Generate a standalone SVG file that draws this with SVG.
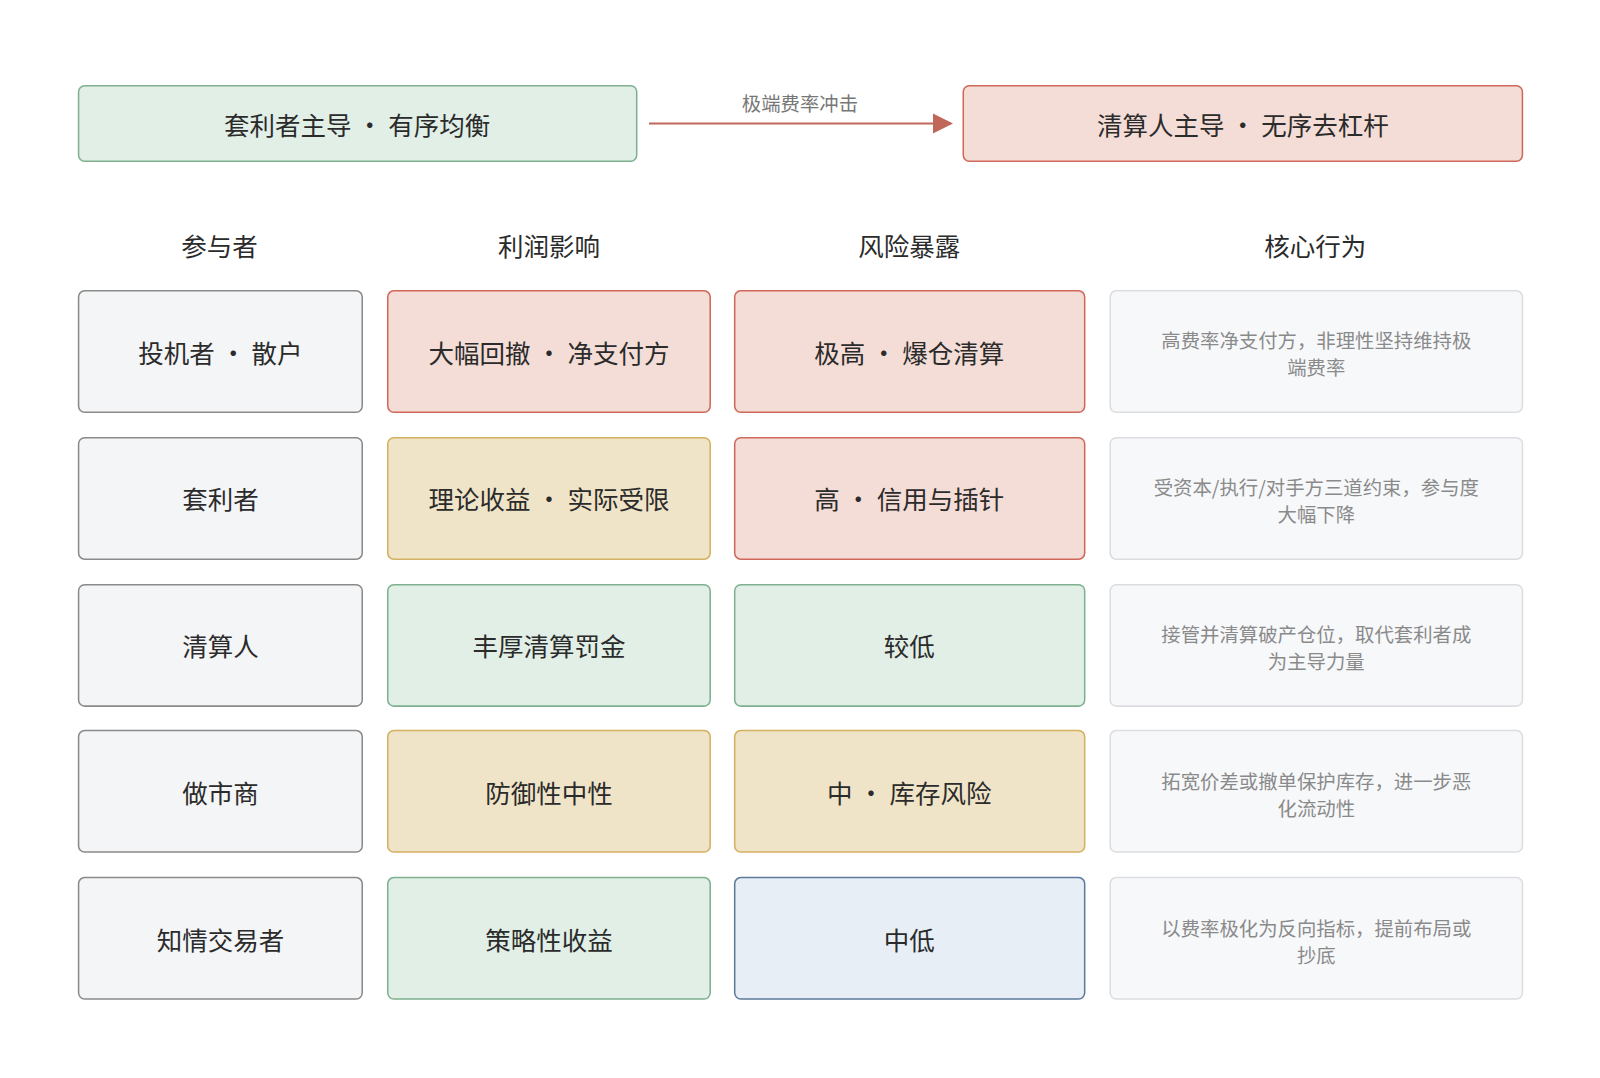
<svg xmlns="http://www.w3.org/2000/svg" width="1600" height="1078" viewBox="0 0 1600 1078">
<style>
text{font-family:"Noto Sans CJK SC","Noto Sans",sans-serif;text-anchor:middle;dominant-baseline:central}
.t{font-size:25px;fill:#2b2b2b}
.h{font-size:25px;fill:#2b2b2b}
.s{font-size:19px;fill:#8a8a8a}
.l{font-size:19px;fill:#777}
.g{fill:#e1efe6;stroke:#7fb08f;stroke-width:1.5}
.r{fill:#f4ddd6;stroke:#d0685a;stroke-width:1.5}
.y{fill:#f0e4c8;stroke:#d4b060;stroke-width:1.5}
.b{fill:#e7eef6;stroke:#5d7a9a;stroke-width:1.5}
.k{fill:#f4f5f7;stroke:#8a8a8a;stroke-width:1.5}
.w{fill:#f7f8fa;stroke:#dcdde0;stroke-width:1.5}
</style>
<defs><marker id="ah" viewBox="0 0 10 10" refX="9" refY="5" markerWidth="7" markerHeight="7" markerUnits="userSpaceOnUse" orient="auto"><path d="M0,0L10,5L0,10z" fill="#c0675a"/></marker>
<marker id="a2" viewBox="0 0 10 10" refX="9" refY="5" markerWidth="20" markerHeight="20" markerUnits="userSpaceOnUse" orient="auto"><path d="M0,0L10,5L0,10z" fill="#c0675a"/></marker></defs>
<rect width="1600" height="1078" fill="#fff"/>
<g transform="scale(1.0204)">
<g id="top1"><rect class="g" x="77" y="84" width="547" height="74" rx="6"/><text class="t" x="350" y="121">套利者主导 · 有序均衡</text></g>
<g id="top2"><rect class="r" x="944" y="84" width="548" height="74" rx="6"/><text class="t" x="1218" y="121">清算人主导 · 无序去杠杆</text></g>
<g id="connectors"><line x1="636" y1="121" x2="932" y2="121" stroke="#c0675a" stroke-width="2" marker-end="url(#a2)"/><text class="l" x="784" y="101">极端费率冲击</text></g>
<g id="headers"><text class="h" x="215" y="240">参与者</text><text class="h" x="538" y="240">利润影响</text><text class="h" x="891" y="240">风险暴露</text><text class="h" x="1289" y="240">核心行为</text></g>
<g id="r1"><rect class="k" x="77" y="285" width="278" height="119" rx="6"/><text class="t" x="216" y="344">投机者 · 散户</text>
<rect class="r" x="380" y="285" width="316" height="119" rx="6"/><text class="t" x="538" y="344">大幅回撤 · 净支付方</text>
<rect class="r" x="720" y="285" width="343" height="119" rx="6"/><text class="t" x="891" y="344">极高 · 爆仓清算</text>
<rect class="w" x="1088" y="285" width="404" height="119" rx="6"/><text class="s" x="1290" y="333">高费率净支付方，非理性坚持维持极</text><text class="s" x="1290" y="360">端费率</text></g>
<g id="r2"><rect class="k" x="77" y="429" width="278" height="119" rx="6"/><text class="t" x="216" y="488">套利者</text>
<rect class="y" x="380" y="429" width="316" height="119" rx="6"/><text class="t" x="538" y="488">理论收益 · 实际受限</text>
<rect class="r" x="720" y="429" width="343" height="119" rx="6"/><text class="t" x="891" y="488">高 · 信用与插针</text>
<rect class="w" x="1088" y="429" width="404" height="119" rx="6"/><text class="s" x="1290" y="477">受资本/执行/对手方三道约束，参与度</text><text class="s" x="1290" y="504">大幅下降</text></g>
<g id="r3"><rect class="k" x="77" y="573" width="278" height="119" rx="6"/><text class="t" x="216" y="632">清算人</text>
<rect class="g" x="380" y="573" width="316" height="119" rx="6"/><text class="t" x="538" y="632">丰厚清算罚金</text>
<rect class="g" x="720" y="573" width="343" height="119" rx="6"/><text class="t" x="891" y="632">较低</text>
<rect class="w" x="1088" y="573" width="404" height="119" rx="6"/><text class="s" x="1290" y="621">接管并清算破产仓位，取代套利者成</text><text class="s" x="1290" y="648">为主导力量</text></g>
<g id="r4"><rect class="k" x="77" y="716" width="278" height="119" rx="6"/><text class="t" x="216" y="776">做市商</text>
<rect class="y" x="380" y="716" width="316" height="119" rx="6"/><text class="t" x="538" y="776">防御性中性</text>
<rect class="y" x="720" y="716" width="343" height="119" rx="6"/><text class="t" x="891" y="776">中 · 库存风险</text>
<rect class="w" x="1088" y="716" width="404" height="119" rx="6"/><text class="s" x="1290" y="765">拓宽价差或撤单保护库存，进一步恶</text><text class="s" x="1290" y="792">化流动性</text></g>
<g id="r5"><rect class="k" x="77" y="860" width="278" height="119" rx="6"/><text class="t" x="216" y="920">知情交易者</text>
<rect class="g" x="380" y="860" width="316" height="119" rx="6"/><text class="t" x="538" y="920">策略性收益</text>
<rect class="b" x="720" y="860" width="343" height="119" rx="6"/><text class="t" x="891" y="920">中低</text>
<rect class="w" x="1088" y="860" width="404" height="119" rx="6"/><text class="s" x="1290" y="909">以费率极化为反向指标，提前布局或</text><text class="s" x="1290" y="936">抄底</text></g>
</g>
</svg>
